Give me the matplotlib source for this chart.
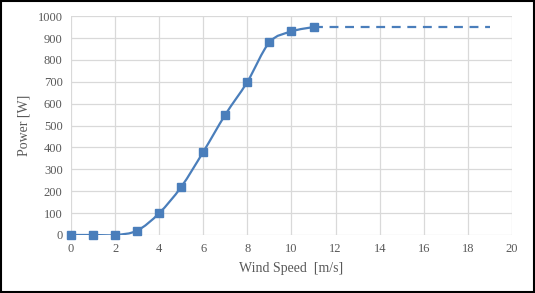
import matplotlib.pyplot as plt
from matplotlib.path import Path
from matplotlib.patches import PathPatch, Rectangle

wind_speed = [0, 1, 2, 3, 4, 5, 6, 7, 8, 9, 10, 11]
power = [0, 0, 0, 20, 100, 220, 380, 550, 700, 880, 930, 950]
rated_speed = [11, 19]
rated_power = [950, 950]

blue = '#4A7EBB'
grey = '#595959'

plt.rcParams['font.family'] = ['Liberation Serif', 'DejaVu Serif']

fig = plt.figure(figsize=(5.35, 2.93), dpi=100)
ax = fig.add_axes([0.1327, 0.198, 0.8243, 0.747])

# smoothed line like Excel: bezier segments through the points
verts = [(wind_speed[0], power[0])]
codes = [Path.MOVETO]
n = len(wind_speed)
for i in range(n - 1):
    x0, y0 = wind_speed[max(i - 1, 0)], power[max(i - 1, 0)]
    x1, y1 = wind_speed[i], power[i]
    x2, y2 = wind_speed[i + 1], power[i + 1]
    x3, y3 = wind_speed[min(i + 2, n - 1)], power[min(i + 2, n - 1)]
    c1 = (x1 + (x2 - x0) / 6, y1 + (y2 - y0) / 6)
    c2 = (x2 - (x3 - x1) / 6, y2 - (y3 - y1) / 6)
    verts += [c1, c2, (x2, y2)]
    codes += [Path.CURVE4] * 3
ax.add_patch(PathPatch(Path(verts, codes), fill=False, edgecolor=blue, lw=1.6, zorder=3))

ax.plot(wind_speed, power, linestyle='none', marker='s', markersize=6,
        color=blue, zorder=4, clip_on=False)
ax.plot(rated_speed, rated_power, linestyle=(0, (4, 3)), color=blue, lw=1.6, zorder=3)

ax.set_xlim(0, 20)
ax.set_ylim(0, 1000)
ax.set_xticks(range(0, 21, 2))
ax.set_yticks(range(0, 1001, 100))
ax.grid(True, color='#D9D9D9', lw=0.9)
ax.set_axisbelow(True)
for s in ax.spines.values():
    s.set_visible(False)
ax.tick_params(length=0, labelsize=9, labelcolor=grey, pad=6)
ax.set_xlabel('Wind Speed  [m/s]', fontsize=10, color=grey, labelpad=5)
ax.set_ylabel('Power [W]', fontsize=10, color=grey, labelpad=5)

fig.patches.append(Rectangle((0.002, 0.003), 0.996, 0.994, transform=fig.transFigure,
                             fill=False, edgecolor='black', lw=1.5))

fig.savefig('out.png', dpi=100)
